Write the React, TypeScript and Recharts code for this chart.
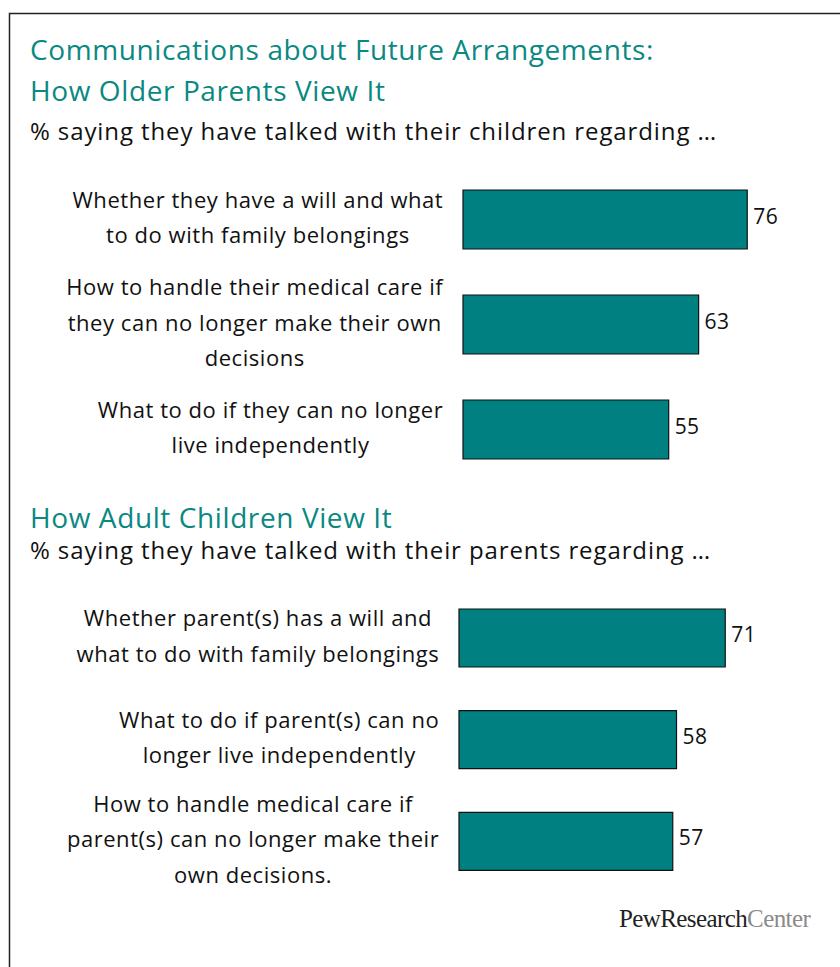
import { BarChart, Bar, XAxis, YAxis, LabelList } from "recharts";

// older parents' view
const parentTopics = [
  "Whether they have a will and what\nto do with family belongings",
  "How to handle their medical care if\nthey can no longer make their own\ndecisions",
  "What to do if they can no longer\nlive independently",
];
const parentValues = [76, 63, 55];

// adult children's view
const childTopics = [
  "Whether parent(s) has a will and\nwhat to do with family belongings",
  "What to do if parent(s) can no\nlonger live independently",
  "How to handle medical care if\nparent(s) can no longer make their\nown decisions.",
];
const childValues = [71, 58, 57];

const TEAL = "#008080";
const TITLE = "#0a8882";
const FONT = "'Open Sans', Lato, sans-serif";
const LABEL_SIZE = 22;
const LABEL_SPACING = 0.55;

let measureCtx: CanvasRenderingContext2D | null = null;
function textWidth(s: string, size: number, spacing: number) {
  if (!measureCtx) measureCtx = document.createElement("canvas").getContext("2d");
  if (!measureCtx) return s.length * (size * 0.5 + spacing);
  measureCtx.font = `${size}px 'Open Sans'`;
  return measureCtx.measureText(s).width + (s.length - 1) * spacing;
}

// multi-line label, lines centred, block right-aligned to the axis
function TopicTick(props: any) {
  const { x, y, payload } = props;
  const lines = String(payload.value).split("\n");
  const w = Math.max(...lines.map((l) => textWidth(l, LABEL_SIZE, LABEL_SPACING)));
  const cx = x - w / 2;
  const lh = 35.5;
  return (
    <text
      textAnchor="middle"
      fontFamily={FONT}
      fontSize={LABEL_SIZE}
      letterSpacing={LABEL_SPACING}
      fill="#111"
    >
      {lines.map((l, i) => (
        <tspan key={i} x={cx} y={y + (i - (lines.length - 1) / 2) * lh + 6}>
          {l}
        </tspan>
      ))}
    </text>
  );
}

function ValueLabel(props: any) {
  const x = Number(props.x);
  const y = Number(props.y);
  const width = Number(props.width);
  const height = Number(props.height);
  return (
    <text
      x={x + width + 6}
      y={y + height / 2 + 4}
      fontFamily={FONT}
      fontSize={21}
      letterSpacing={0.4}
      fill="#111"
    >
      {props.value}
    </text>
  );
}

function Panel({
  topics,
  values,
  top,
  height,
  axisWidth,
  right,
  barSize,
}: {
  topics: string[];
  values: number[];
  top: number;
  height: number;
  axisWidth: number;
  right: number;
  barSize: number;
}) {
  const data = topics.map((topic, i) => ({ topic, value: values[i] }));
  return (
    <div style={{ position: "absolute", left: 0, top }}>
      <BarChart
        width={840}
        height={height}
        data={data}
        layout="vertical"
        margin={{ top: 0, right, bottom: 0, left: 0 }}
      >
        <XAxis type="number" domain={[0, 100]} hide />
        <YAxis
          type="category"
          dataKey="topic"
          width={axisWidth}
          axisLine={false}
          tickLine={false}
          tickSize={0}
          tickMargin={20}
          tick={<TopicTick />}
          interval={0}
        />
        <Bar
          dataKey="value"
          fill={TEAL}
          stroke="#111"
          strokeWidth={1.2}
          barSize={barSize}
          isAnimationActive={false}
        >
          <LabelList dataKey="value" content={<ValueLabel />} />
        </Bar>
      </BarChart>
    </div>
  );
}

export default function App() {
  return (
    <div
      style={{
        position: "absolute",
        left: 0,
        top: 0,
        width: 840,
        height: 967,
        background: "#fff",
        overflow: "hidden",
      }}
    >
      <svg width={840} height={967} style={{ position: "absolute", left: 0, top: 0 }}>
        <path d="M9.5 967 V13.5 H840" fill="none" stroke="#222" strokeWidth={1.5} />
        <g fontFamily={FONT}>
          <g fontSize={28} fill={TITLE} letterSpacing={0.6}>
            <text x={30} y={60}>
              Communications about Future Arrangements:
            </text>
            <text x={30} y={101}>
              How Older Parents View It
            </text>
            <text x={30} y={528}>
              How Adult Children View It
            </text>
          </g>
          <g fontSize={24} fill="#111" letterSpacing={0.9}>
            <text x={30} y={140}>
              % saying they have talked with their children regarding …
            </text>
            <text x={30} y={559}>
              % saying they have talked with their parents regarding …
            </text>
          </g>
        </g>
        <text
          x={619}
          y={927}
          fontFamily="'Liberation Serif', 'DejaVu Serif', serif"
          fontSize={25}
          letterSpacing={-0.6}
        >
          <tspan fill="#222">PewResearch</tspan>
          <tspan fill="#8a8a8a">Center</tspan>
        </text>
      </svg>
      <Panel
        topics={parentTopics}
        values={parentValues}
        top={167}
        height={315}
        axisWidth={463}
        right={3}
        barSize={59}
      />
      <Panel
        topics={childTopics}
        values={childValues}
        top={587}
        height={305}
        axisWidth={459}
        right={6}
        barSize={58}
      />
    </div>
  );
}
